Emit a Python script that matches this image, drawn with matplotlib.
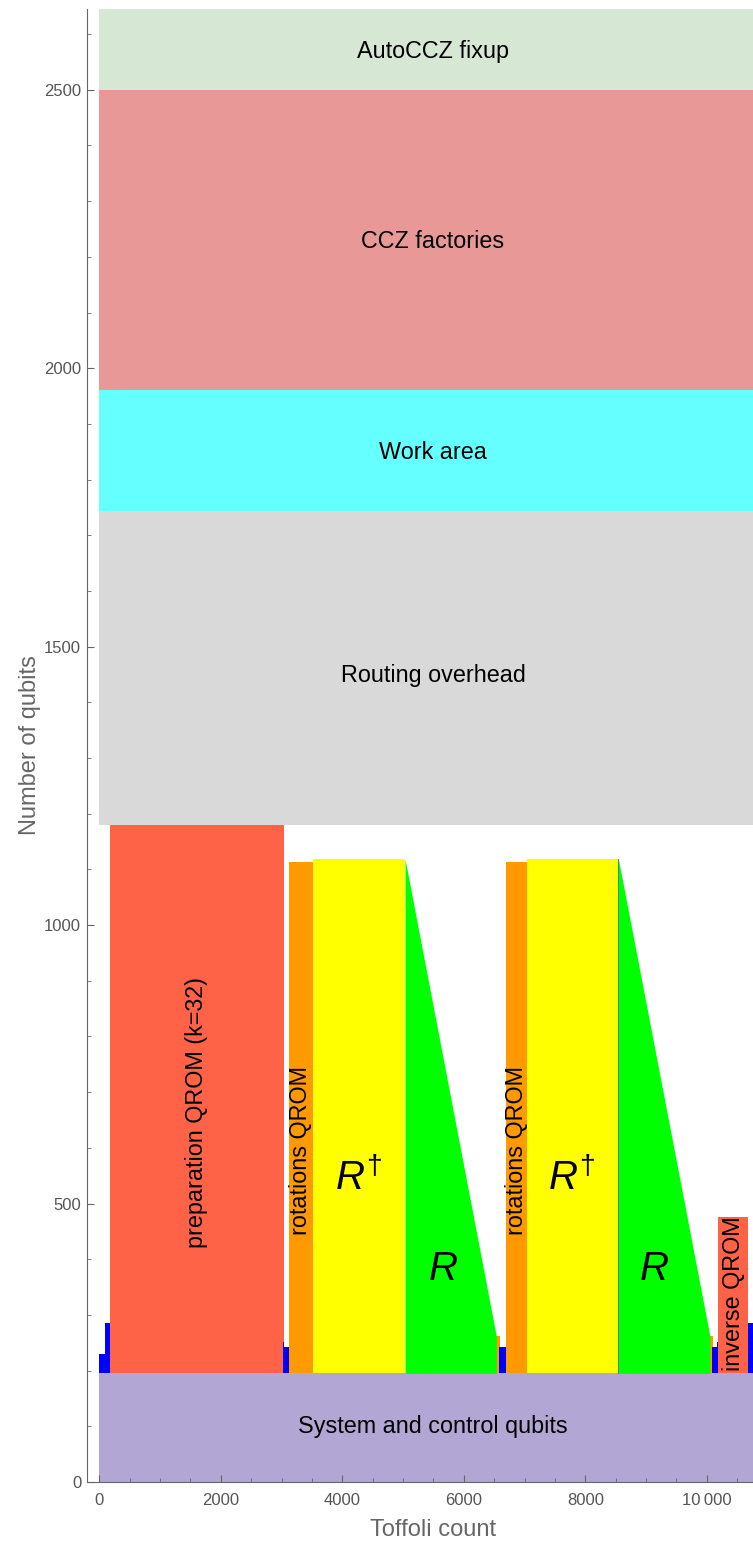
import matplotlib
matplotlib.use("Agg")
import matplotlib.pyplot as plt
from matplotlib.ticker import MultipleLocator, FixedLocator

plt.rcParams['font.family'] = ['Liberation Sans', 'DejaVu Sans']
plt.rcParams['mathtext.fontset'] = 'custom'
plt.rcParams['mathtext.rm'] = 'Liberation Sans'
plt.rcParams['mathtext.it'] = 'Liberation Sans:italic'

# ---------------- data ----------------
band_labels = ["System and control qubits", "Routing overhead", "Work area",
               "CCZ factories", "AutoCCZ fixup"]
band_lo = [0, 1180, 1744, 1960, 2500]
band_hi = [195, 1744, 1960, 2500, 2645]
band_colors = ["#b1a6d4", "#d9d9d9", "#66ffff", "#e99898", "#d6e8d4"]

base = 195  # everything in the middle sits on the system qubits

qrom_labels = ["preparation QROM (k=32)", "inverse QROM"]
qrom_x0 = [176, 10189]
qrom_x1 = [3045, 10683]
qrom_top = [1180, 475]

rot_qrom_x0 = [3123, 6695]
rot_qrom_x1 = [3523, 7035]
rot_qrom_top = [1114, 1113]

sliver_x0 = [6530, 10051]
sliver_x1 = [6596, 10107]
sliver_top = [262, 263]

rdag_x0 = [3523, 7035]
rdag_x1 = [5032, 8544]
rdag_top = [1119, 1119]

r_x0 = [5032, 8544]
r_x1 = [6535, 10051]
r_top_start = [1119, 1119]
r_top_end = [262, 262]

blue_x0 = [0, 94, 3029, 3045, 6580, 10090, 10160, 10683]
blue_x1 = [94, 176, 3045, 3123, 6695, 10160, 10189, 10760]
blue_top = [230, 285, 251, 242, 242, 242, 251, 285]

x_ticks = [0, 2000, 4000, 6000, 8000, 10000]
x_tick_labels = ["0", "2000", "4000", "6000", "8000", "10\u2009000"]
y_ticks = [0, 500, 1000, 1500, 2000, 2500]

# ---------------- figure ----------------
W, H = 753, 1547
fig = plt.figure(figsize=(W / 100, H / 100), dpi=100)
ax = fig.add_axes([86.7 / W, (H - 1482) / H, (W - 86.7) / W, (1482 - 9) / H])
xmin, xmax = -207, 10760
ax.set_xlim(xmin, xmax)
ax.set_ylim(0, 2645)

# bands spanning the whole width
for lo, hi, c in zip(band_lo, band_hi, band_colors):
    ax.fill_between([0, xmax], [lo, lo], [hi, hi], color=c, lw=0, zorder=1)

label_x = 5493
band_label_y = [99, 1448, 1848, 2227, 2568]
for lab, y in zip(band_labels, band_label_y):
    ax.text(label_x, y, lab, ha='center', va='center', fontsize=16.8, color='black', zorder=10)

def rect(x0, x1, top, color, z=2):
    ax.fill_between([x0, x1], [base, base], [top, top], color=color, lw=0, zorder=z)

for a, b, t in zip(qrom_x0, qrom_x1, qrom_top):
    rect(a, b, t, "#ff6347")
for a, b, t in zip(rot_qrom_x0, rot_qrom_x1, rot_qrom_top):
    rect(a, b, t, "#ff9900")
for a, b, t in zip(sliver_x0, sliver_x1, sliver_top):
    rect(a, b, t, "#ff9900")
for a, b, t in zip(rdag_x0, rdag_x1, rdag_top):
    rect(a, b, t, "#ffff00")
for a, b, t0, t1 in zip(r_x0, r_x1, r_top_start, r_top_end):
    ax.fill_between([a, b], [base, base], [t0, t1], color="#00ff00", lw=0, zorder=2)
for a, b, t in zip(blue_x0, blue_x1, blue_top):
    rect(a, b, t, "#0000ff", z=3)
# thin boundary line at the start of the second R block
ax.plot([r_x0[1], r_x0[1]], [base, r_top_start[1]], color="#2e8b8b", lw=0.7, zorder=4)

# rotated labels
ax.text(1608, 664, qrom_labels[0], rotation=90, ha='center', va='center', fontsize=16.8, zorder=10)
ax.text(10437, 338, qrom_labels[1], rotation=90, ha='center', va='center', fontsize=16.8, zorder=10)
for x in [3304, 6865]:
    ax.text(x, 596, "rotations QROM", rotation=90, ha='center', va='center', fontsize=16.8, zorder=10)

for x in [4265, 7775]:
    ax.text(x, 524, r"$R^{\dagger}$", ha='center', va='baseline', fontsize=29, zorder=10)
for x in [5661, 9133]:
    ax.text(x, 363, r"$R$", ha='center', va='baseline', fontsize=29, zorder=10)

# axes styling
for s in ['top', 'right']:
    ax.spines[s].set_visible(False)
for s in ['left', 'bottom']:
    ax.spines[s].set_color('#666666')
    ax.spines[s].set_linewidth(0.8)
ax.spines['bottom'].set_zorder(20)

ax.xaxis.set_major_locator(FixedLocator(x_ticks))
ax.set_xticklabels(x_tick_labels)
ax.xaxis.set_minor_locator(MultipleLocator(500))
ax.yaxis.set_major_locator(FixedLocator(y_ticks))
ax.yaxis.set_minor_locator(MultipleLocator(100))
ax.tick_params(axis='both', which='major', direction='in', length=5, width=0.8,
               color='#666666', labelcolor='#555555', labelsize=12)
ax.tick_params(axis='both', which='minor', direction='in', length=2.7, width=0.6, color='#666666')
ax.tick_params(axis='x', pad=8)
ax.tick_params(axis='y', pad=4)
for t in ax.get_xticklines() + ax.get_yticklines():
    t.set_zorder(20)

ax.set_xlabel("Toffoli count", fontsize=17, color='#666666')
ax.set_ylabel("Number of qubits", fontsize=17, color='#666666')
ax.xaxis.set_label_coords((433 - 86.7) / (W - 86.7), -(1530 - 1482) / (1482 - 9), transform=ax.transAxes)
ax.yaxis.set_label_coords((30 - 86.7) / (W - 86.7), (1482 - 745) / (1482 - 9), transform=ax.transAxes)
ax.xaxis.label.set_va('center')
ax.yaxis.label.set_va('center')
ax.set_axisbelow(False)

fig.savefig("out.png", dpi=100)
